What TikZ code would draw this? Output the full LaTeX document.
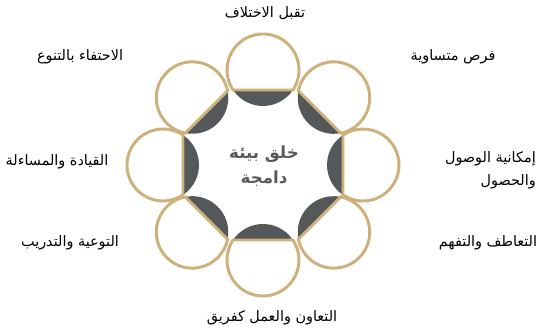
\documentclass[tikz,border=0pt]{standalone}
\usepackage{fontspec}
\usepackage{xcolor}
\usepackage{tikz}
\TeXXeTstate=1
\newfontfamily\arabicfont[Script=Arabic]{DejaVu Sans}
\definecolor{oro}{HTML}{CDB07A}
\definecolor{ardesia}{HTML}{54585A}
\definecolor{testo}{HTML}{595959}

\begin{document}
\begin{tikzpicture}[x=0.75pt,y=0.75pt,
  lbl/.style={font=\arabicfont\fontsize{10.8}{17}\selectfont,text=black,inner sep=0pt},
  anello/.style={draw=oro,line width=2.2pt}]
\useasboundingbox (0,0) rectangle (538,331);
% ---- anello: otto cerchi con la calotta scura verso il centro ----
\foreach \ang in {0,45,...,315}{
  \begin{scope}[shift={({263+100*cos(\ang)},{166+95*sin(\ang)})},rotate=\ang]
    \fill[ardesia] (123.75:36) arc[start angle=123.75,end angle=236.25,radius=36] -- cycle;
    \draw[anello] (-123.75:36) arc[start angle=-123.75,end angle=123.75,radius=36] -- cycle;
  \end{scope}
}
% ---- testo centrale ----
\node[font=\arabicfont\bfseries\fontsize{12.5}{19}\selectfont,text=testo,align=center] (centro) at (264,165)
  {\beginR خلق بيئة\endR\\\beginR دامجة\endR};
% ---- etichette ----
\node[lbl] (accetta) at (265,318) {\beginR تقبل الاختلاف\endR};
\node[lbl] (pari) at (453,274) {\beginR فرص متساوية\endR};
\node[lbl,anchor=east,align=right] (accesso) at (536,161)
  {\beginR إمكانية الوصول\endR\\\beginR والحصول\endR};
\node[lbl] (empatia) at (488,88) {\beginR التعاطف والتفهم\endR};
\node[lbl] (squadra) at (272,13) {\beginR التعاون والعمل كفريق\endR};
\node[lbl] (formazione) at (70,88) {\beginR التوعية والتدريب\endR};
\node[lbl] (guida) at (57,169) {\beginR القيادة والمساءلة\endR};
\node[lbl] (diversita) at (80,274) {\beginR الاحتفاء بالتنوع\endR};
\end{tikzpicture}
\end{document}
